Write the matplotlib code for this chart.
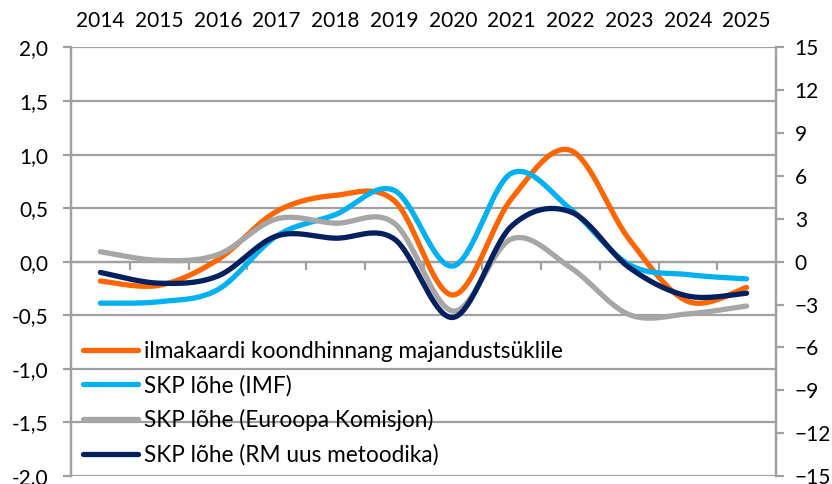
import numpy as np
import matplotlib
matplotlib.use("Agg")
import matplotlib.pyplot as plt
from matplotlib.ticker import FixedLocator, FuncFormatter

years = ["2014", "2015", "2016", "2017", "2018", "2019", "2020", "2021", "2022", "2023", "2024", "2025"]
ilmakaart = [-0.18, -0.22, 0.02, 0.47, 0.62, 0.57, -0.31, 0.59, 1.04, 0.21, -0.37, -0.24]
imf = [-2.9, -2.8, -1.95, 1.8, 3.3, 5.0, -0.3, 6.2, 3.7, -0.2, -0.9, -1.2]
ek = [0.7, 0.1, 0.5, 3.0, 2.7, 2.7, -3.45, 1.6, -0.4, -3.7, -3.65, -3.1]
rm = [-0.75, -1.5, -1.0, 1.8, 1.65, 1.6, -3.9, 2.5, 3.5, -0.4, -2.4, -2.2]

labels = ["ilmakaardi koondhinnang majandustsüklile", "SKP lõhe (IMF)",
          "SKP lõhe (Euroopa Komisjon)", "SKP lõhe (RM uus metoodika)"]
colors = ["#FF6600", "#00B0F0", "#A6A6A6", "#002060"]

plt.rcParams['font.family'] = ['Lato', 'DejaVu Sans']
FS = 15
LFS = 16.3


def smooth(xs, ys, n=40):
    P = np.column_stack([xs, ys]).astype(float)
    m = len(P)
    out = []
    for i in range(m - 1):
        p0 = P[i - 1] if i > 0 else P[i]
        p1 = P[i]
        p2 = P[i + 1]
        p3 = P[i + 2] if i + 2 < m else P[i + 1]
        b1 = p1 + (p2 - p0) / 6.0
        b2 = p2 - (p3 - p1) / 6.0
        t = np.linspace(0, 1, n)[:, None]
        seg = ((1 - t) ** 3) * p1 + 3 * ((1 - t) ** 2) * t * b1 + 3 * (1 - t) * t ** 2 * b2 + t ** 3 * p2
        if i > 0:
            seg = seg[1:]
        out.append(seg)
    out = np.vstack(out)
    return out[:, 0], out[:, 1]


fig = plt.figure(figsize=(8.32, 4.84), dpi=100)
ax = fig.add_axes([71 / 832, 8 / 484, 705 / 832, 428.5 / 484])
ax2 = ax.twinx()

x = np.arange(len(years))
gridc = "#A0A0A0"

ax.set_xlim(-0.5, len(years) - 0.5)
ax.set_ylim(-2.0, 2.0)
ax2.set_ylim(-15, 15)

yt = np.arange(-2.0, 2.01, 0.5)
ax.set_yticks(yt)
ax.yaxis.set_major_formatter(FuncFormatter(lambda v, p: f"{v:.1f}".replace(".", ",")))
ax2.set_yticks(np.arange(-15, 16, 3))
for v in yt:
    ax.axhline(v, color=gridc, lw=1.6, zorder=0)

for a in (ax, ax2):
    a.spines["top"].set_visible(False)
    a.spines["left"].set_color(gridc)
    a.spines["right"].set_color(gridc)
    a.spines["left"].set_linewidth(1.6)
    a.spines["right"].set_linewidth(1.6)
ax2.spines["bottom"].set_visible(False)
ax.spines["bottom"].set_position(("data", 0))
ax.spines["bottom"].set_color(gridc)
ax.spines["bottom"].set_linewidth(1.6)

ax.tick_params(axis="y", direction="out", length=6, width=1.6, color=gridc, labelsize=FS, pad=10.5)
ax2.tick_params(axis="y", direction="out", length=6, width=1.6, color=gridc, labelsize=FS, pad=7.5)
ax.xaxis.set_major_locator(FixedLocator(np.arange(0.5, len(years) - 1, 1.0)))
ax.tick_params(axis="x", direction="out", length=6, width=1.6, color=gridc, labelbottom=False)

top = ax.secondary_xaxis("top")
top.set_xticks(x)
top.set_xticklabels(years)
top.tick_params(length=0, labelsize=FS, pad=12)
top.spines["top"].set_visible(False)

xs, ys = smooth(x, ilmakaart)
h0, = ax.plot(xs, ys, color=colors[0], lw=3.8, solid_capstyle="round", zorder=3, label=labels[0])
handles = [h0]
for vals, c, lab in zip([imf, ek, rm], colors[1:], labels[1:]):
    xs, ys = smooth(x, vals)
    h, = ax2.plot(xs, ys, color=c, lw=3.8, solid_capstyle="round", label=lab)
    handles.append(h)

ax2.set_zorder(ax.get_zorder() + 1)
ax2.patch.set_visible(False)

leg = ax2.legend(handles=handles, labels=labels, loc="lower left", bbox_to_anchor=(0.0175, 0.024),
                 frameon=False, fontsize=LFS, handlelength=2.43, handletextpad=0.25,
                 labelspacing=0.57, borderaxespad=0.0, borderpad=0.0)

fig.savefig("out.png", dpi=100)
